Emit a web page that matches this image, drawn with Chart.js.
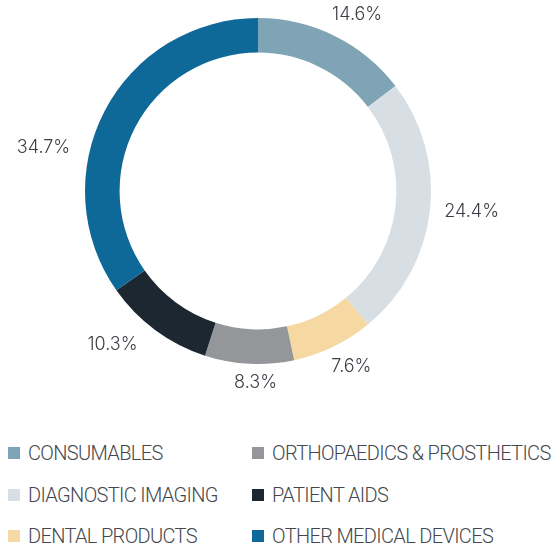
<!DOCTYPE html>
<html>
<head>
<meta charset="utf-8">
<script src="https://cdn.jsdelivr.net/npm/chart.js@4/dist/chart.umd.min.js"></script>
<style>
  html, body { margin: 0; padding: 0; background: #ffffff; }
  #wrap { position: relative; width: 555px; height: 545px; overflow: hidden; }
  #chartBox { position: absolute; left: 0; top: 0; width: 555px; height: 400px; }
  #legend {
    position: absolute; left: 8px; top: 440px;
    display: grid; grid-auto-flow: column;
    grid-template-rows: repeat(3, 41.5px);
    grid-template-columns: 244px 300px;
    font-family: Roboto, "Liberation Sans", sans-serif;
    font-weight: 300; font-size: 20px; letter-spacing: -0.65px; color: #44474d;
  }
  .item { display: flex; align-items: center; white-space: nowrap; height: 26px; }
  .sw { width: 12px; height: 12px; margin-right: 8px; flex: none; }
</style>
</head>
<body>
<div id="wrap">
  <div id="chartBox"><canvas id="c"></canvas></div>
  <div id="legend"></div>
</div>
<script>
// Segment names, clockwise from the top
const categories = [
  "CONSUMABLES",
  "DIAGNOSTIC IMAGING",
  "DENTAL PRODUCTS",
  "ORTHOPAEDICS & PROSTHETICS",
  "PATIENT AIDS",
  "OTHER MEDICAL DEVICES"
];
// Share of each segment, in percent
const shares = [14.6, 24.4, 7.6, 8.3, 10.3, 34.7];
const colors = ["#7fa4b6", "#d7dfe5", "#f6d8a2", "#959699", "#1c2731", "#0e6898"];

// Small shifts (px) applied to each percentage label after radial placement
const labelShift = [[7, 10], [7, -3], [3, -12], [8, -16], [-22, -14], [-30, 53]];

const percentLabels = {
  id: "percentLabels",
  afterDatasetsDraw(chart) {
    const ctx = chart.ctx;
    const meta = chart.getDatasetMeta(0);
    ctx.save();
    ctx.font = "300 18px Inter, Roboto, sans-serif";
    ctx.fillStyle = "#3b3e45";
    ctx.textAlign = "center";
    ctx.textBaseline = "middle";
    meta.data.forEach((arc, i) => {
      const p = arc.getProps(["x", "y", "startAngle", "endAngle", "outerRadius"], true);
      const mid = (p.startAngle + p.endAngle) / 2;
      const r = p.outerRadius + 35;
      const x = p.x + Math.cos(mid) * r + labelShift[i][0];
      const y = p.y + Math.sin(mid) * r + labelShift[i][1];
      ctx.fillText(shares[i].toFixed(1) + "%", x, y);
    });
    ctx.restore();
  }
};

const chart = new Chart(document.getElementById("c"), {
  type: "doughnut",
  data: {
    labels: categories,
    datasets: [{
      data: shares,
      backgroundColor: colors,
      borderWidth: 0,
      hoverOffset: 0
    }]
  },
  options: {
    responsive: true,
    maintainAspectRatio: false,
    animation: false,
    cutout: "80%",
    layout: { padding: { left: 85, right: 124, top: 18, bottom: 36 } },
    plugins: {
      legend: { display: false },
      tooltip: { enabled: false }
    }
  },
  plugins: [percentLabels]
});

// Legend in two columns, built from the chart's own labels and colours
const legendEl = document.getElementById("legend");
categories.forEach((name, i) => {
  const item = document.createElement("div");
  item.className = "item";
  const sw = document.createElement("span");
  sw.className = "sw";
  sw.style.background = colors[i];
  const t = document.createElement("span");
  t.textContent = name;
  item.appendChild(sw);
  item.appendChild(t);
  legendEl.appendChild(item);
});
</script>
</body>
</html>
